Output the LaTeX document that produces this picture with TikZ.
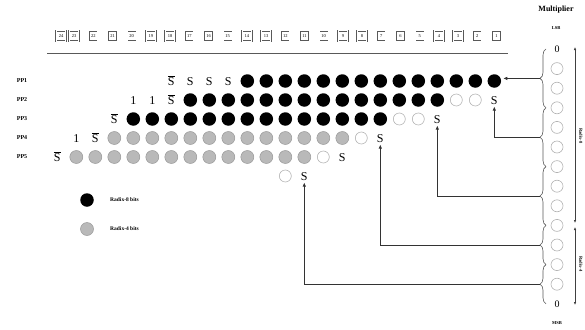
\documentclass[tikz,border=0pt]{standalone}
\usepackage{fontspec}
\setmainfont{Liberation Serif}
\usetikzlibrary{decorations.pathreplacing,arrows.meta}
\begin{document}
\begin{tikzpicture}[x=1pt,y=-1pt,
  blk/.style={circle,fill=black,inner sep=0pt,minimum size=13.5pt},
  gry/.style={circle,fill=gray!55,draw=gray!80,line width=0.5pt,inner sep=0pt,minimum size=13pt},
  emp/.style={circle,draw=gray!60,line width=0.6pt,inner sep=0pt,minimum size=12pt},
  sb/.style={inner sep=0pt,anchor=base,font=\fontsize{12}{12}\selectfont},
  bx/.style={draw=gray!70!black,double,double distance=1.2pt,line width=0.35pt,inner sep=0pt,
    minimum width=9.5pt,minimum height=10.5pt,font=\fontsize{4.5}{4.5}\selectfont},
  pp/.style={font=\fontsize{6}{6}\selectfont\bfseries,inner sep=0pt},
  brc/.style={decorate,decoration={brace,amplitude=6pt},line width=0.6pt,draw=gray!70!black},
  arr/.style={-{Latex[length=4pt,width=3.5pt]},line width=0.8pt,draw=black!80,shorten >=2pt},
  dim/.style={{Latex[length=3pt,width=2.5pt]}-{Latex[length=3pt,width=2.5pt]},line width=0.6pt,draw=black!75},
  sm/.style={font=\fontsize{4.5}{4.5}\selectfont\bfseries,inner sep=0pt}
]
\useasboundingbox (0,0) rectangle (585,329);
% bit index boxes
\foreach \k in {1,...,22} \node[bx] (b\k) at ({496.5-(\k-1)*19.2},36) {\k};
\node[bx] (b23) at (74,36) {23};
\node[bx] (b24) at (61,36) {24};
\draw[gray!70!black,line width=0.6pt] (47,53) coordinate (ul1) -- (508,53) coordinate (ul2);
% row labels
\foreach \r in {1,...,5} \node[pp] (l\r) at (22,{81+19*(\r-1)}) {PP\r};
% PP1
\foreach \c in {1,...,14} \node[blk] (p1-\c) at ({494.3-(\c-1)*19},81) {};
\foreach \c in {15,16,17} \node[sb] (s1-\c) at ({494.3-(\c-1)*19},85.2) {S};
\node[sb] (s1-18) at ({494.3-17*19},85.2) {$\overline{\mathrm{S}}$};
% PP2
\foreach \c in {4,...,17} \node[blk] (p2-\c) at ({494.3-(\c-1)*19},100) {};
\foreach \c in {2,3} \node[emp] (e2-\c) at ({494.3-(\c-1)*19},100) {};
\node[sb] (s2) at (494.3,104.2) {S};
\node[sb] (s2-18) at ({494.3-17*19},104.2) {$\overline{\mathrm{S}}$};
\foreach \c in {19,20} \node[sb] (o2-\c) at ({494.3-(\c-1)*19},104.2) {1};
% PP3
\foreach \c in {7,...,20} \node[blk] (p3-\c) at ({494.3-(\c-1)*19},119) {};
\foreach \c in {5,6} \node[emp] (e3-\c) at ({494.3-(\c-1)*19},119) {};
\node[sb] (s3) at ({494.3-3*19},123.2) {S};
\node[sb] (s3-21) at ({494.3-20*19},123.2) {$\overline{\mathrm{S}}$};
% PP4
\foreach \c in {9,...,21} \node[gry] (p4-\c) at ({494.3-(\c-1)*19},138) {};
\node[emp] (e4-8) at ({494.3-7*19},138) {};
\node[sb] (s4) at ({494.3-6*19},142.2) {S};
\node[sb] (s4-22) at ({494.3-21*19},142.2) {$\overline{\mathrm{S}}$};
\node[sb] (o4-23) at ({494.3-22*19},142.2) {1};
% PP5
\foreach \c in {11,...,23} \node[gry] (p5-\c) at ({494.3-(\c-1)*19},157) {};
\node[emp] (e5-10) at ({494.3-9*19},157) {};
\node[sb] (s5) at ({494.3-8*19},161.2) {S};
\node[sb] (s5-24) at ({494.3-23*19},161.2) {$\overline{\mathrm{S}}$};
% extra row
\node[emp] (e6-12) at ({494.3-11*19},176) {};
\node[sb] (s6) at ({494.3-10*19},180.2) {S};
% legend
\node[blk] (lg1) at (87,200) {};
\node[sm,anchor=west,font=\fontsize{5.5}{5.5}\selectfont\bfseries] (lt1) at (110,200) {Radix-8 bits};
\node[gry] (lg2) at (87,229) {};
\node[sm,anchor=west,font=\fontsize{5.5}{5.5}\selectfont\bfseries] (lt2) at (110,229) {Radix-4 bits};
% multiplier
\node[font=\fontsize{8}{8}\selectfont\bfseries,inner sep=0pt] (mt) at (556,10) {Multiplier};
\node[sm] (lsb) at (556,28) {LSB};
\node[sm] (msb) at (557,323) {MSB};
\node[font=\fontsize{10}{10}\selectfont,inner sep=0pt] (m0) at (557,49) {0};
\foreach \i in {1,...,12} \node[emp] (m\i) at (557,{49+19.6*\i}) {};
\node[font=\fontsize{10}{10}\selectfont,inner sep=0pt] (m13) at (557,303.8) {0};
% braces
\draw[brc] (546,107.8) -- (546,49);
\draw[brc] (546,166.6) -- (546,107.8);
\draw[brc] (546,225.4) -- (546,166.6);
\draw[brc] (546,264.6) -- (546,225.4);
\draw[brc] (546,303.8) -- (546,264.6);
\coordinate (c1) at (539.5,78.4);
\coordinate (c2) at (539.5,137.2);
\coordinate (c3) at (539.5,196);
\coordinate (c4) at (539.5,245);
\coordinate (c5) at (539.5,284.2);
% connectors
\draw[arr] (c1) -- (p1-1.east |- c1);
\draw[arr] (c2) -| (s2.south);
\draw[arr] (c3) -| (s3.south);
\draw[arr] (c4) -| (s4.south);
\draw[arr] (c5) -| (s6.south);
% radix spans
\coordinate (r1) at (575,47);
\coordinate (r2) at (575,223);
\coordinate (r3) at (575,227);
\coordinate (r4) at (575,305);
\draw[dim] (r1) -- (r2);
\draw[dim] (r3) -- (r4);
\node[sm,rotate=-90] (rl1) at (581,136) {Radix-8};
\node[sm,rotate=-90] (rl2) at (581,264) {Radix-4};
\end{tikzpicture}
\end{document}
